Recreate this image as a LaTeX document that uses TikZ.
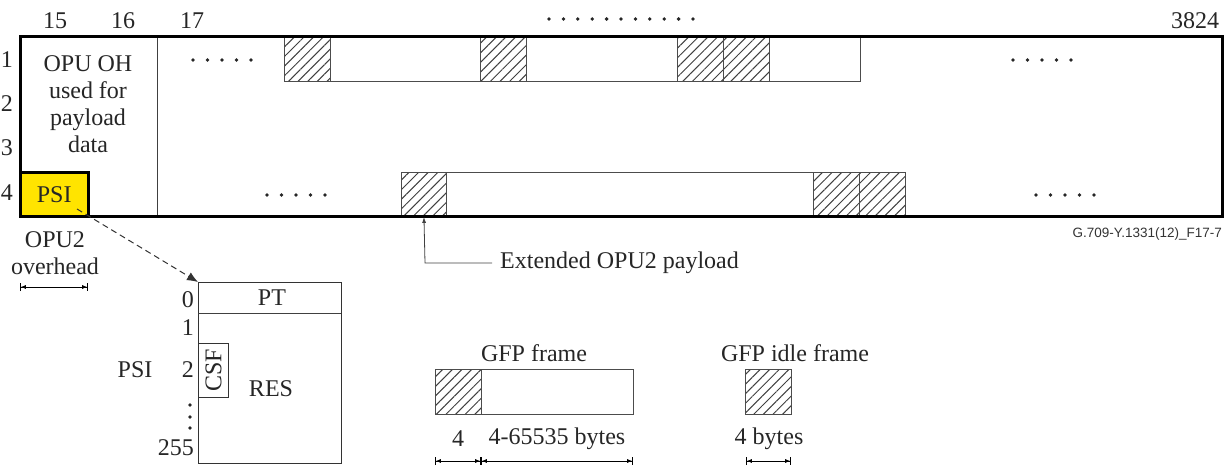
\documentclass[tikz,border=0pt]{standalone}
\usepackage{fontspec}
\setmainfont{Liberation Serif}
\setsansfont{Liberation Sans}
\usetikzlibrary{arrows.meta,patterns.meta}
\begin{document}
\begin{tikzpicture}[x=1pt,y=-1pt,
  lbl/.style={font=\fontsize{24}{27}\selectfont, inner sep=0pt, text=black!85},
  thinline/.style={line width=0.9pt, draw=black!75},
  thickline/.style={line width=3pt, draw=black},
  hbox/.style={draw=black!70, line width=0.9pt, pattern={Lines[angle=45,distance=6.8pt,line width=1pt]}, pattern color=black!75, inner sep=0pt, anchor=north west},
  wbox/.style={draw=black!70, line width=0.9pt, fill=white, inner sep=0pt, anchor=north west},
  dotc/.style={fill=black!85},
  dim/.style={line width=0.7pt, {Bar[width=8pt,line width=0.8pt]Latex[length=5pt,width=4pt]}-{Latex[length=5pt,width=4pt]Bar[width=8pt,line width=0.8pt]}}
]
\useasboundingbox (0,0) rectangle (1229,466);

% ---------- main frame ----------
\coordinate (tl) at (20,36);
\coordinate (br) at (1222,216);
\fill[white] (tl) rectangle (br);
% PSI yellow box
\node[draw=none, fill={rgb,255:red,255;green,228;blue,0}, inner sep=0pt, anchor=north west,
      minimum width=68pt, minimum height=44pt] (psibox) at (20,172) {};
\node[lbl] (psitxt) at (psibox.center) {PSI};
% column separator
\draw[thinline] (157,36) -- (157,216);

% top row frames
\node[wbox, minimum width=576pt, minimum height=44pt] (f1) at (284,37) {};
\node[hbox, minimum width=46pt, minimum height=44pt] (h1) at (284,37) {};
\node[hbox, minimum width=46pt, minimum height=44pt] (h2) at (480,37) {};
\node[hbox, minimum width=46pt, minimum height=44pt] (h3) at (677,37) {};
\node[hbox, minimum width=46pt, minimum height=44pt] (h4) at (723,37) {};

% bottom row frames
\node[wbox, minimum width=504pt, minimum height=44pt] (f2) at (401,172) {};
\node[hbox, minimum width=45pt, minimum height=44pt] (h5) at (401,172) {};
\node[hbox, minimum width=46pt, minimum height=44pt] (h6) at (813,172) {};
\node[hbox, minimum width=46pt, minimum height=44pt] (h7) at (859,172) {};

% outer thick border and PSI outline
\draw[thickline] (tl) rectangle (br);
\draw[thickline] (20,172) -- (88,172) -- (88,216);

% OPU OH text
\node[lbl, align=center] (opuoh) at (88,104) {OPU OH\\used for\\payload\\data};

% column numbers
\node[lbl] (c15) at (55,21) {15};
\node[lbl] (c16) at (123,21) {16};
\node[lbl] (c17) at (192,21) {17};
\node[lbl] (c3824) at (1195,21) {3824};
% row numbers
\node[lbl] (r1) at (7,60) {1};
\node[lbl] (r2) at (7,104) {2};
\node[lbl] (r3) at (7,148) {3};
\node[lbl] (r4) at (7,193) {4};

% dots
\foreach \i in {0,...,10} \fill[dotc] (549+14.4*\i,19) circle (1.9pt);
\foreach \i in {0,...,4} {
  \fill[dotc] (193+14.5*\i,60) circle (1.8pt);
  \fill[dotc] (1013+14.5*\i,60) circle (1.8pt);
  \fill[dotc] (267+14.5*\i,195) circle (1.8pt);
  \fill[dotc] (1036+14.5*\i,195) circle (1.8pt);
}

% figure id
\node[font=\sffamily\fontsize{13.5}{14}\selectfont, text=black!80, inner sep=0pt, anchor=east] (figid) at (1222,234) {G.709-Y.1331(12)\_F17-7};

% extended OPU2 payload
\node[lbl, anchor=west] (ext) at (500,263) {Extended OPU2 payload};
\coordinate (extc) at (425,263);
\draw[line width=0.8pt, draw=black!75, -{Latex[length=6pt,width=4pt]}] (ext.west) ++(-8,0) -- (extc) -- (h5.south);

% OPU2 overhead
\node[lbl, align=center] (ovh) at (55,253) {OPU2\\overhead};
\coordinate (ovl) at (20,287);
\coordinate (ovr) at (88,287);
\draw[dim] (ovl) -- (ovr);

% PSI table
\node[draw=black!80, line width=0.9pt, inner sep=0pt, anchor=north west, minimum width=143pt, minimum height=181pt] (ptab) at (198,282) {};
\draw[thinline] (198,313) -- (341,313);
\node[lbl] (pt) at (272,298) {PT};
\node[draw=black!80, line width=0.9pt, inner sep=0pt, anchor=north west, minimum width=30pt, minimum height=54pt] (csf) at (198,343) {};
\node[lbl, rotate=90] (csft) at (csf.center) {CSF};
\node[lbl] (res) at (271,389) {RES};
\node[lbl, anchor=east] (i0) at (194,300) {0};
\node[lbl, anchor=east] (i1) at (194,328) {1};
\node[lbl, anchor=east] (i2) at (194,370) {2};
\node[lbl, anchor=east] (i255) at (194,448) {255};
\node[lbl] (psilbl) at (135,370) {PSI};
\foreach \y in {405,417,428} \fill[dotc] (190,\y) circle (1.8pt);

% dashed pointer
\coordinate (dstart) at (77,209);
\draw[line width=1pt, draw=black!80, dash pattern=on 6pt off 4pt, -{Latex[length=11pt,width=9pt]}] (dstart) -- (ptab.north west);

% GFP frame
\node[lbl] (gfpl) at (534,353) {GFP frame};
\node[wbox, minimum width=198pt, minimum height=45pt] (gfp) at (435,369) {};
\node[hbox, minimum width=46pt, minimum height=45pt] (gfph) at (435,369) {};
\node[lbl] (g4) at (458,439) {4};
\node[lbl] (gbytes) at (557,439) {4-65535 bytes};
\coordinate (d1) at (435,461);
\coordinate (d2) at (481,461);
\coordinate (d3) at (633,461);
\draw[dim] (d1) -- (d2);
\draw[dim] (d2) -- (d3);

% GFP idle frame
\node[lbl] (idlel) at (795,353) {GFP idle frame};
\node[hbox, minimum width=46pt, minimum height=45pt] (idle) at (745,369) {};
\node[lbl] (i4) at (769,439) {4 bytes};
\coordinate (d4) at (746,461);
\coordinate (d5) at (791,461);
\draw[dim] (d4) -- (d5);
\end{tikzpicture}
\end{document}
